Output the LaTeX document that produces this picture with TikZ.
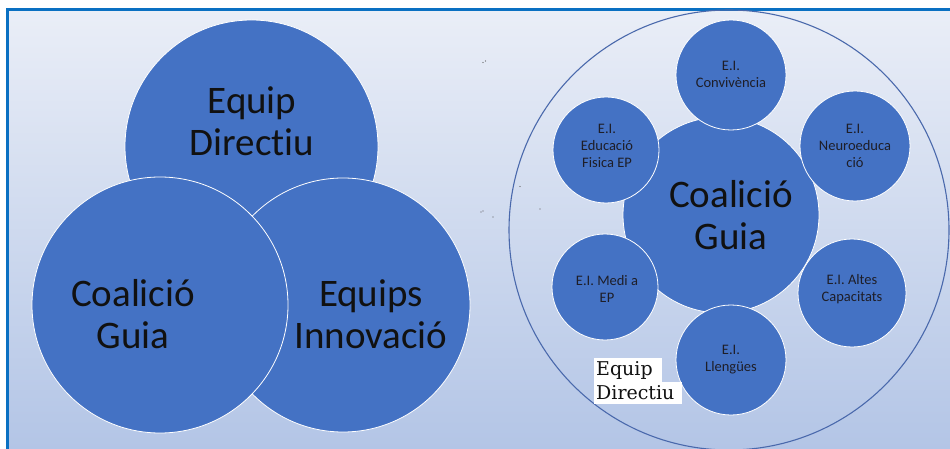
\documentclass[tikz,border=0pt]{standalone}
\usepackage{fontspec}
\setmainfont[Ligatures=NoCommon]{Carlito}
\newfontfamily\slabfont{DejaVu Serif}
\definecolor{cblue}{HTML}{4472C4}
\definecolor{bgtop}{HTML}{EAEEF7}
\definecolor{bgbot}{HTML}{B3C5E6}
\definecolor{frame}{HTML}{0A70C2}
\definecolor{ring}{HTML}{4A69AC}
\definecolor{txt}{HTML}{111111}
\definecolor{stxt}{HTML}{1E1E28}
\begin{document}
\begin{tikzpicture}[x=1pt,y=-1pt,
  disc/.style={circle, fill=cblue, draw=white, line width=0.8pt, inner sep=0pt},
  bigtext/.style={align=center, text=txt, inner sep=0pt, font=\fontsize{39}{42}\selectfont},
  smalltext/.style={align=center, text=stxt, inner sep=0pt, font=\fontsize{14.5}{17}\selectfont},
  speck/.style={fill=gray!70!black}]
\useasboundingbox (0,0) rectangle (950,449);
\fill[white] (0,0) rectangle (950,449);
\shade[top color=bgtop, bottom color=bgbot] (7,9) rectangle (950,449);
\draw[frame, line width=3pt] (7.5,449) -- (7.5,9.5) -- (950,9.5);

% left diagram
\node[disc, minimum size=253pt] (ed) at (251.5,146.5) {};
\node[disc, minimum size=254pt] (ei) at (343,305) {};
\node[disc, minimum size=256pt] (cg) at (160,305) {};
\node[bigtext] (edt) at (252,121) {Equip\\Directiu};
\node[bigtext] (cgt) at (133,314) {Coalició\\Guia};
\node[bigtext] (eit) at (371,314) {Equips\\Innovació};

% right diagram
\node[circle, draw=ring, line width=1.1pt, minimum size=440pt, inner sep=0pt] (outer) at (729,230) {};
\node[disc, minimum size=196pt] (core) at (721,215) {};
\node[bigtext] (coret) at (731,215) {Coalició\\Guia};

\node[disc, minimum size=110pt] (conv) at (731,75) {};
\node[disc, minimum size=110pt] (neuro) at (855,146) {};
\node[disc, minimum size=108pt] (altes) at (852,293) {};
\node[disc, minimum size=110pt] (llen) at (731,360) {};
\node[disc, minimum size=106pt] (medi) at (605,287) {};
\node[disc, minimum size=106pt] (fis) at (606,150) {};

\node[smalltext] at (731,74) {E.I.\\Convivència};
\node[smalltext] at (855,146) {E.I.\\Neuroeduca\\ció};
\node[smalltext] at (852,289) {E.I. Altes\\Capacitats};
\node[smalltext] at (731,360) {E.I.\\Llengües};
\node[smalltext] at (607,289) {E.I. Medi a\\EP};
\node[smalltext] at (607,146) {E.I.\\Educació\\Fisica EP};

% Equip Directiu label
\fill[white] (594,358) rectangle (662,382);
\fill[white] (594,381.5) rectangle (682,404);
\node[anchor=west, inner sep=0pt, text=txt, font=\slabfont\fontsize{19}{23}\selectfont] (edlab1) at (596,370) {Equip};
\node[anchor=west, inner sep=0pt, text=txt, font=\slabfont\fontsize{19}{23}\selectfont] (edlab2) at (596,393) {Directiu};

% specks
\fill[speck] (483,62.5) circle (0.7);
\fill[speck] (485.5,61) circle (0.6);
\fill[speck] (520,186.5) circle (0.6);
\fill[speck] (481,212) circle (0.7);
\fill[speck] (483,211) circle (0.6);
\fill[speck] (493,217) circle (0.6);
\fill[speck] (540,209) circle (0.6);
\end{tikzpicture}
\end{document}
